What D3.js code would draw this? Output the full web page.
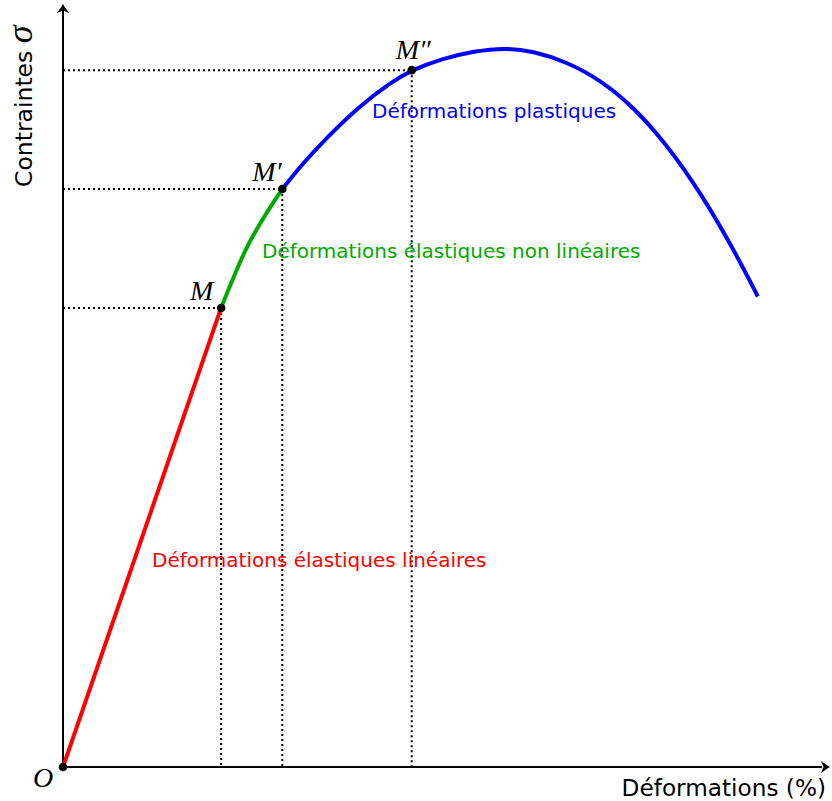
<!DOCTYPE html>
<html>
<head>
<meta charset="utf-8">
<script src="https://cdn.jsdelivr.net/npm/d3@7"></script>
<style>
  body { margin: 0; background: #fff; }
  text { font-family: "DejaVu Sans", sans-serif; }
  .math { font-family: "Liberation Serif", "DejaVu Serif", serif; font-style: italic; }
</style>
</head>
<body>
<div id="chart"></div>
<script>
// Curve segments (strain, stress)
const elasticLinear = [[0, 0], [2.48, 7.22]];
const elasticNonLinear = [[2.48, 7.22], [2.86, 8.12], [3.44, 9.09]];
const plastic = [
  [3.44, 9.09], [3.76, 9.49], [4.11, 9.87], [4.63, 10.38], [5.16, 10.78],
  [5.47, 10.96], [5.94, 11.14], [6.46, 11.26], [6.92, 11.31], [7.37, 11.26],
  [7.90, 11.09], [8.42, 10.81], [8.94, 10.39], [9.47, 9.79], [9.99, 9.05],
  [10.51, 8.16], [10.90, 7.40],
];

// Marked points
const pointNames = ['M', 'M′', 'M″'];
const pointValues = [[2.48, 7.22], [3.44, 9.09], [5.47, 10.96]];

const width = 832, height = 801;

const x = d3.scaleLinear().domain([0, 12]).range([63, 828]);
const y = d3.scaleLinear().domain([0, 12]).range([767, 4]);

const svg = d3.select('#chart').append('svg')
  .attr('width', width)
  .attr('height', height);

/* Dotted guides */
const guides = svg.append('g')
  .attr('stroke', '#000')
  .attr('stroke-width', 2)
  .attr('stroke-dasharray', '2,3');

pointValues.forEach((p) => {
  guides.append('line')
    .attr('x1', x(0)).attr('y1', y(p[1]))
    .attr('x2', x(p[0])).attr('y2', y(p[1]));
  guides.append('line')
    .attr('x1', x(p[0])).attr('y1', y(p[1]))
    .attr('x2', x(p[0])).attr('y2', y(0));
});

/* Axes (domain lines only) */
const xAxis = svg.append('g')
  .attr('transform', `translate(0,${y(0)})`)
  .call(d3.axisBottom(x).tickValues([]).tickSizeOuter(0));
const yAxis = svg.append('g')
  .attr('transform', `translate(${x(0)},0)`)
  .call(d3.axisLeft(y).tickValues([]).tickSizeOuter(0));
xAxis.select('.domain').attr('stroke-width', 2).attr('d', `M${x(0)},0H${x(12) - 6}`);
yAxis.select('.domain').attr('stroke-width', 2).attr('d', `M0,${y(0)}V${y(12) + 6}`);

// Arrow heads
const arrow = 'M0,0 C-3,1.5 -6,4 -9,6 L-6.5,0 L-9,-6 C-6,-4 -3,-1.5 0,0 Z';
svg.append('path').attr('d', arrow)
  .attr('transform', `translate(${x(12) + 2},${y(0)})`);
svg.append('path').attr('d', arrow)
  .attr('transform', `translate(${x(0)},${y(12)}) rotate(-90)`);

/* Curves */
const line = d3.line()
  .x((d) => x(d[0]))
  .y((d) => y(d[1]));

const segments = [
  { data: elasticLinear, color: '#ff0000', curve: d3.curveLinear },
  { data: elasticNonLinear, color: '#00aa00', curve: d3.curveMonotoneX },
  { data: plastic, color: '#0000ff', curve: d3.curveBasis },
];

svg.append('g').selectAll('path')
  .data(segments)
  .join('path')
  .attr('d', (d) => line.curve(d.curve)(d.data))
  .attr('fill', 'none')
  .attr('stroke', (d) => d.color)
  .attr('stroke-width', 4);

/* Points */
svg.append('g').selectAll('circle')
  .data([[0, 0], ...pointValues])
  .join('circle')
  .attr('cx', (d) => x(d[0]))
  .attr('cy', (d) => y(d[1]))
  .attr('r', 4.3);

// Point labels
const labelOffsets = [[-31, -8], [-30, -8], [-16, -11]];
svg.append('g').selectAll('text')
  .data(pointValues)
  .join('text')
  .attr('class', 'math')
  .attr('x', (d, i) => x(d[0]) + labelOffsets[i][0])
  .attr('y', (d, i) => y(d[1]) + labelOffsets[i][1])
  .attr('font-size', 28)
  .text((d, i) => pointNames[i]);

svg.append('text')
  .attr('class', 'math')
  .attr('x', x(0) - 30)
  .attr('y', y(0) + 20)
  .attr('font-size', 28)
  .text('O');

/* Region labels */
svg.append('text')
  .attr('x', 152).attr('y', 567)
  .attr('font-size', 20)
  .attr('fill', '#ff0000')
  .text('Déformations élastiques linéaires');
svg.append('text')
  .attr('x', 262).attr('y', 258)
  .attr('font-size', 20)
  .attr('fill', '#00aa00')
  .text('Déformations élastiques non linéaires');
svg.append('text')
  .attr('x', 372).attr('y', 118)
  .attr('font-size', 20)
  .attr('fill', '#0000ff')
  .text('Déformations plastiques');

/* Axis titles */
svg.append('text')
  .attr('x', 826).attr('y', 796)
  .attr('text-anchor', 'end')
  .attr('font-size', 23.2)
  .text('Déformations (%)');

const yTitle = svg.append('text')
  .attr('transform', 'translate(32,187) rotate(-90)')
  .attr('font-size', 23.5);
yTitle.append('tspan').text('Contraintes ');
yTitle.append('tspan').attr('class', 'math').attr('font-size', 36).text('σ');
</script>
</body>
</html>
